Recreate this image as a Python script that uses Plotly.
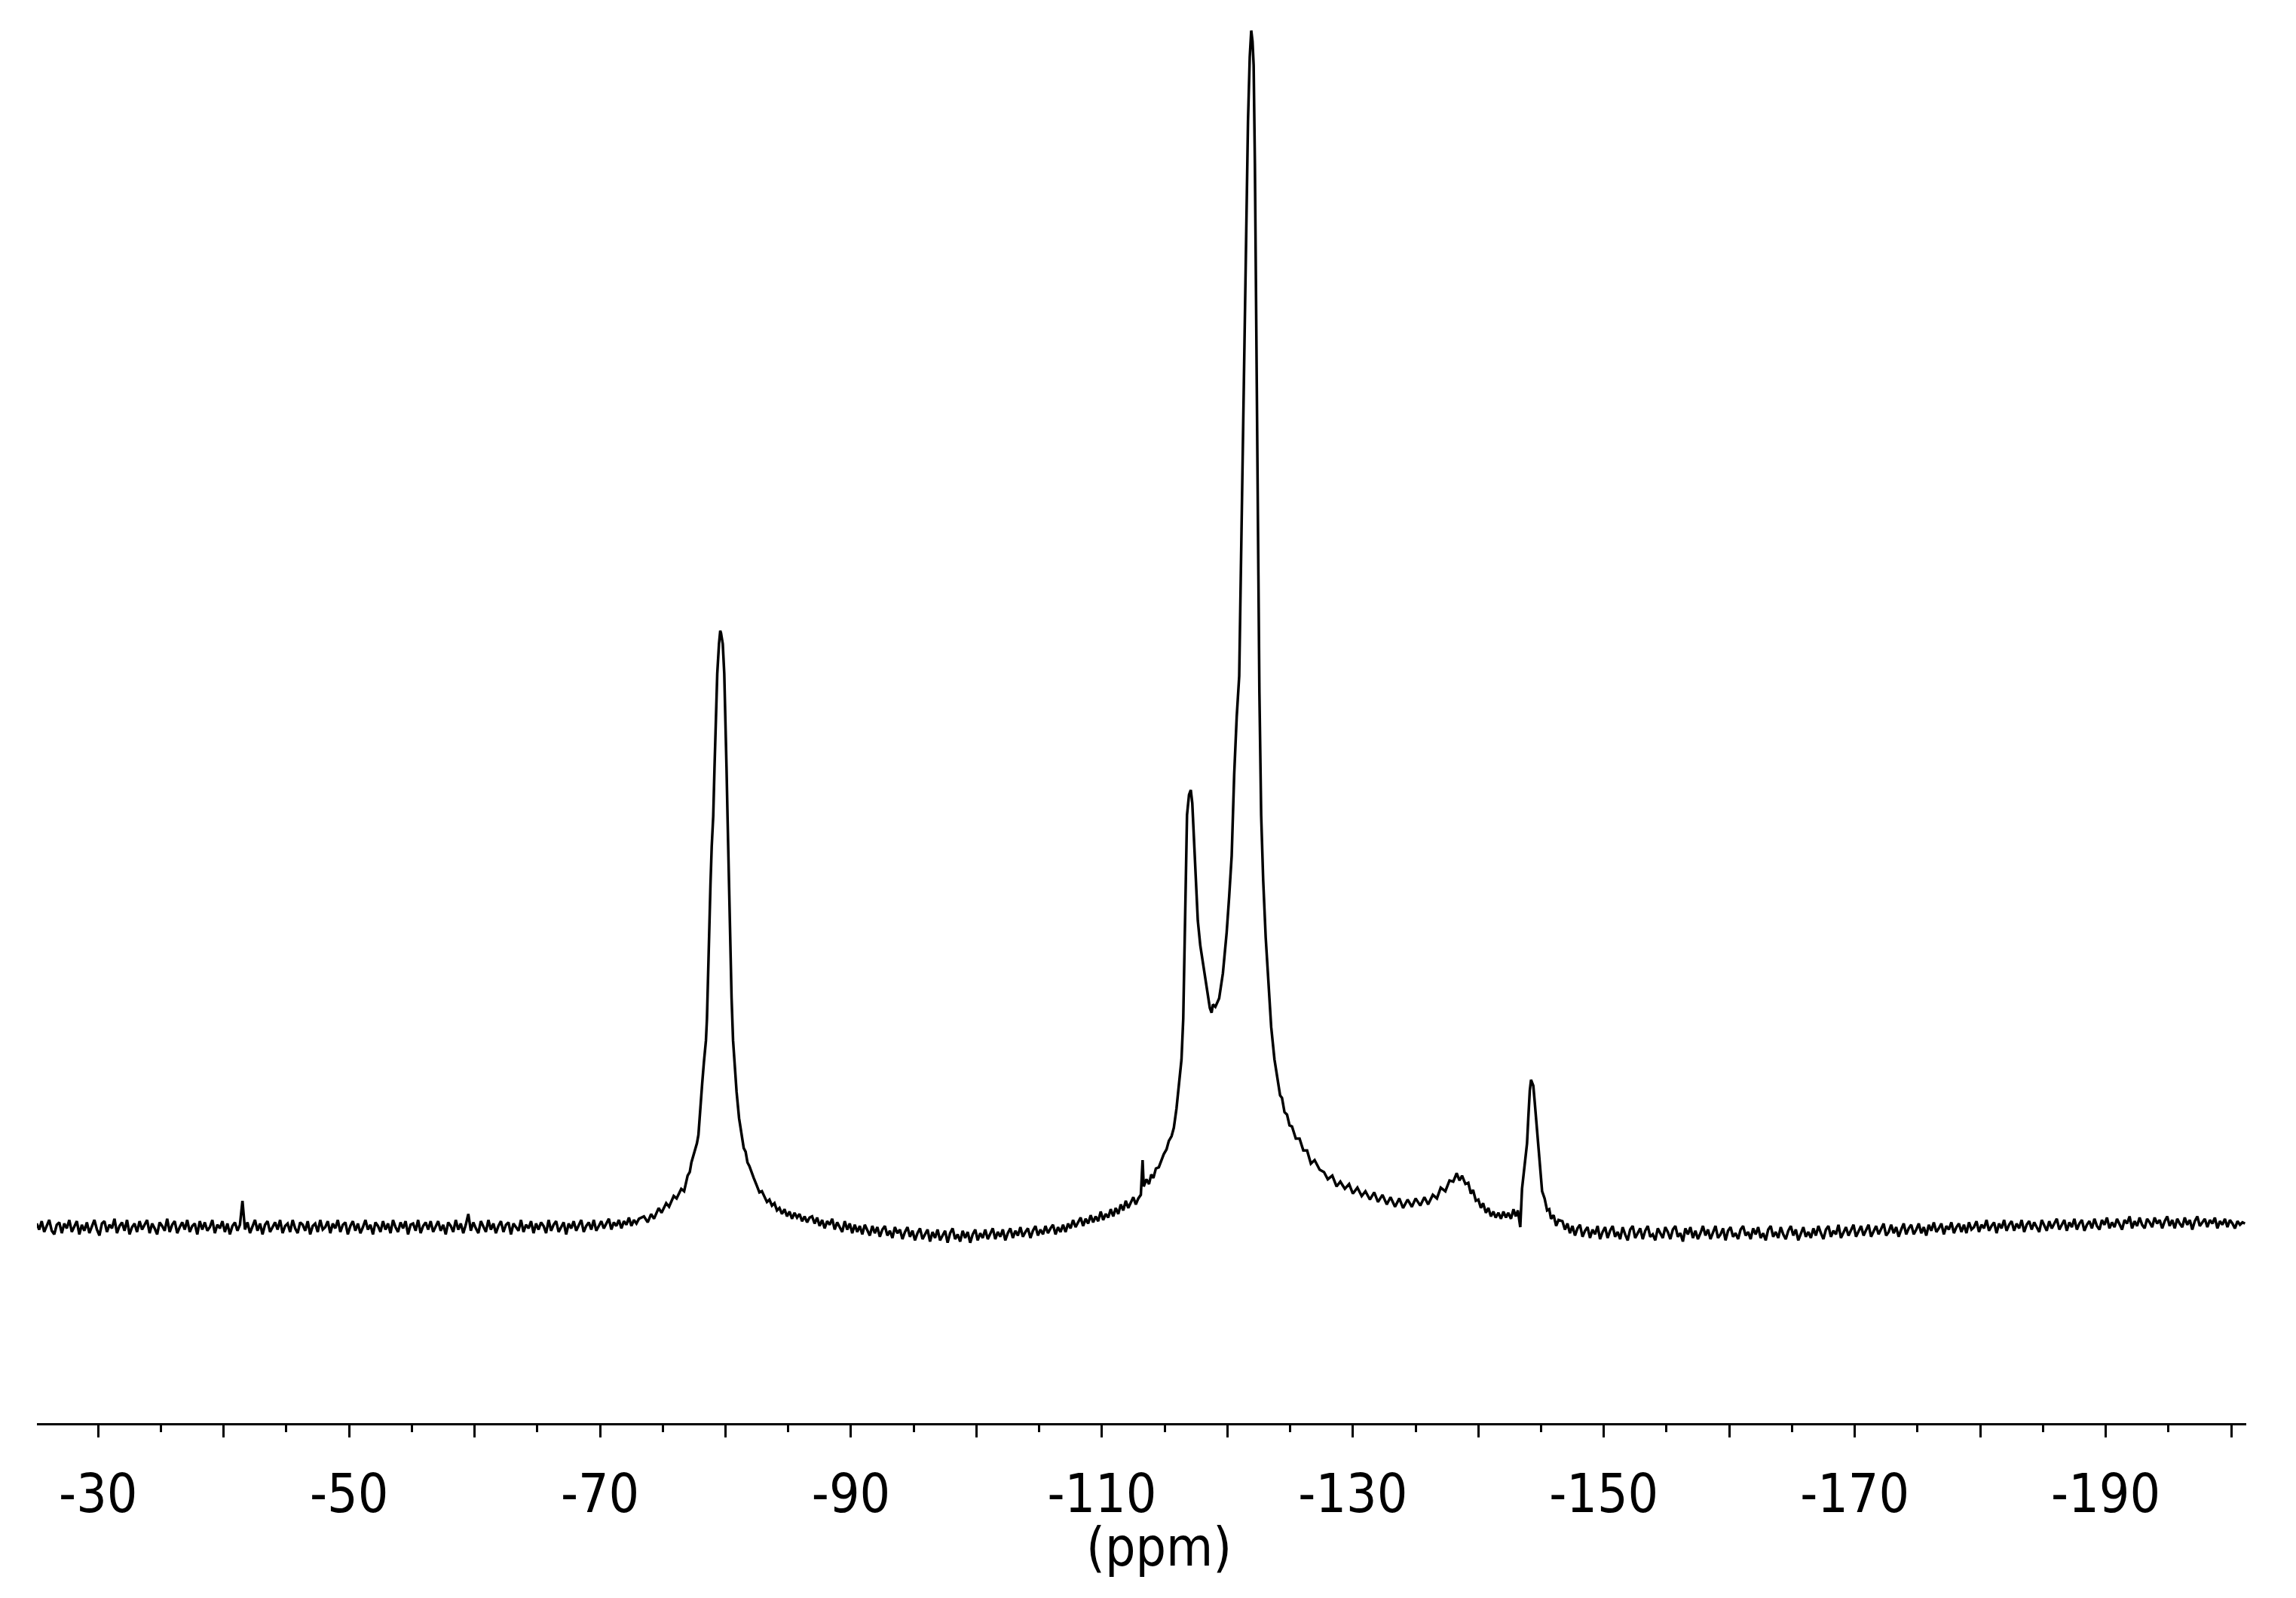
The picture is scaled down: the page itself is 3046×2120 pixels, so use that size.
import plotly.graph_objects as go

# ---- data (ppm, intensity in % of tallest peak) ----
STEP = 0.2  # ppm spacing of the baseline readings

# baseline readings, -25.1 ... -73.1 ppm
base_a_start = -25.1
base_a = [
    0.3, -0.2, 0.5, -0.4, 0.1, 0.6, -0.3, -0.6, 0.2, 0.4, -0.5, 0.3, -0.1, 0.6, -0.4, 0.0, 0.5, -0.6, 0.2, -0.3,
    0.4, -0.5, 0.1, 0.6, -0.2, -0.7, 0.3, 0.5, -0.4, 0.2, -0.1, 0.7, -0.5, 0.1, 0.4, -0.3, 0.6, -0.6, 0.0, 0.3,
    -0.4, 0.5, -0.2, 0.2, 0.6, -0.5, 0.3, -0.1, -0.6, 0.4, 0.1, -0.3, 0.7, -0.4, 0.2, 0.5, -0.5, 0.0, 0.4, -0.2,
    0.6, -0.4, 0.1, 0.3, -0.6, 0.5, -0.2, 0.4, -0.3, 0.0, 0.6, -0.5, 0.2, -0.1, 0.5, -0.4, 0.3, -0.6, 0.1, 0.4,
    -0.3, 0.2, 2.2, -0.2, 0.4, -0.5, 0.1, 0.6, -0.3, 0.3, -0.6, 0.2, 0.5, -0.4, 0.0, 0.4, -0.2, 0.6, -0.5, 0.1,
    0.3, -0.4, 0.6, -0.1, -0.5, 0.4, 0.2, -0.3, 0.5, -0.6, 0.1, 0.3, -0.4, 0.6, -0.2, 0.0, 0.5, -0.5, 0.3, -0.1,
    0.6, -0.4, 0.2, 0.4, -0.6, 0.1, 0.5, -0.3, 0.3, -0.5, 0.0, 0.6, -0.2, 0.2, -0.6, 0.4, 0.1, -0.4, 0.5, -0.2,
    0.3, -0.5, 0.6, 0.0, -0.4, 0.4, -0.1, 0.5, -0.6, 0.2, 0.3, -0.3, 0.6, -0.5, 0.1, 0.4, -0.2, 0.5, -0.4, 0.0,
    0.5, -0.3, 0.2, -0.6, 0.4, 0.1, -0.4, 0.6, -0.2, 0.3, -0.5, 0.2, 1.1, -0.3, 0.4, -0.1, -0.5, 0.5, 0.0, -0.4,
    0.6, -0.2, 0.3, -0.5, 0.1, 0.5, -0.4, 0.2, 0.4, -0.6, 0.3, 0.0, -0.3, 0.6, -0.4, 0.2, -0.1, 0.5, -0.5, 0.3,
    -0.2, 0.4, 0.1, -0.5, 0.6, -0.3, 0.2, 0.5, -0.4, 0.0, 0.4, -0.6, 0.3, -0.1, 0.5, -0.3, 0.2, 0.6, -0.4, 0.1,
    0.4, -0.2, 0.6, -0.3, 0.1, 0.5, -0.1, 0.3, 0.7, -0.2, 0.4, 0.1, 0.6, -0.1, 0.5, 0.2, 0.8, 0.1, 0.6, 0.3,
    0.7,
]

# peak near -79.6 ppm
peak1_ppm = [
    -73.5, -73.8, -74.07, -74.3, -74.67, -74.9, -75.27, -75.5, -75.87, -76.1,
    -76.47, -76.7, -76.98, -77.15, -77.28, -77.45, -77.58, -77.72, -77.84, -77.98,
    -78.14, -78.28, -78.44, -78.52, -78.60, -78.68, -78.80, -78.90, -79.02, -79.12,
    -79.22, -79.34, -79.48, -79.58, -79.64, -79.72, -79.78, -79.90, -80.00, -80.08,
    -80.16, -80.24, -80.32, -80.40, -80.48, -80.60, -80.72, -80.88, -81.08, -81.2,
    -81.32, -81.45, -81.6, -81.75, -81.9, -82.08, -82.25, -82.48, -82.7, -82.9,
    -83.08, -83.3, -83.5, -83.7, -83.9, -84.1, -84.3, -84.5, -84.7, -84.9,
    -85.1, -85.3, -85.5, -85.7, -85.9, -86.1, -86.3, -86.5, -86.7,
]
peak1_int = [
    0.9, 0.4, 1.1, 0.7, 1.6, 1.2, 2.0, 1.7, 2.6, 2.4,
    3.2, 3.0, 4.3, 4.6, 5.4, 6.0, 6.6, 7.0, 7.7, 10.0,
    12.0, 13.8, 15.6, 17.4, 21.0, 24.6, 28.6, 31.8, 34.3, 38.3,
    42.6, 46.2, 48.7, 49.8, 49.6, 49.2, 48.7, 46.2, 42.6, 38.3,
    34.3, 30.0, 26.4, 22.8, 19.2, 15.6, 13.8, 11.3, 9.1, 8.2,
    7.5, 6.6, 6.3, 5.4, 5.1, 4.5, 4.1, 3.5, 2.9, 3.0,
    2.6, 2.1, 2.3, 1.8, 2.0, 1.4, 1.6, 1.1, 1.5, 0.9,
    1.3, 0.7, 1.2, 0.8, 1.1, 0.5, 0.9, 0.4, 0.8,
]

# baseline readings, -86.9 ... -112.9 ppm
base_b_start = -86.9
base_b = [
    0.9, 0.3, 0.8, 0.1, 0.6, -0.1, 0.5, 0.2, 0.7, -0.2, 0.4, 0.0, -0.4, 0.5, -0.2, 0.3, -0.5, 0.2, -0.4, 0.1,
    -0.6, 0.2, -0.3, -0.7, 0.1, -0.5, 0.0, -0.8, -0.2, 0.1, -0.7, -0.3, -0.9, 0.0, -0.5, -0.2, -1.0, -0.4, 0.0, -0.8,
    -0.3, -1.1, -0.5, -0.1, -1.0, -0.6, -0.2, -1.2, -0.4, -0.9, -0.2, -1.1, -0.7, -0.3, -1.3, -0.5, -0.1, -1.0, -0.6, -1.2,
    -0.3, -0.9, -0.4, -1.3, -0.6, -0.2, -1.1, -0.5, -0.9, -0.2, -1.0, -0.6, -0.1, -1.0, -0.4, -0.8, -0.2, -1.1, -0.5, -0.1,
    -0.9, -0.3, -0.7, 0.0, -0.8, -0.4, -0.1, -0.9, -0.3, 0.1, -0.7, -0.2, -0.6, 0.1, -0.5, -0.1, 0.2, -0.6, 0.0, -0.4,
    0.2, -0.4, 0.3, -0.1, 0.6, 0.0, 0.4, 0.8, 0.1, 0.7, 0.3, 1.0, 0.4, 0.9, 0.5, 1.3, 0.6, 1.1, 0.8, 1.5,
    0.9, 1.6, 1.1, 1.9, 1.4, 2.2, 1.6, 2.0, 2.5, 1.9, 2.4,
]

# peaks near -117.1 and -121.9 ppm, hump near -138.3, peak near -144.2
peak2_ppm = [
    -113.1, -113.24, -113.33, -113.55, -113.75, -113.93, -114.1, -114.3, -114.53, -114.75,
    -114.93, -115.15, -115.33, -115.55, -115.73, -115.94, -116.14, -116.34, -116.48, -116.58,
    -116.68, -116.78, -116.94, -117.08, -117.20, -117.34, -117.48, -117.64, -117.84, -118.04,
    -118.24, -118.44, -118.6, -118.74, -118.85, -119.04, -119.34, -119.64, -119.94, -120.14,
    -120.34, -120.54, -120.74, -120.94, -121.08, -121.24, -121.44, -121.64, -121.78, -121.9,
    -122.0, -122.09, -122.19, -122.29, -122.41, -122.55, -122.69, -122.85, -123.05, -123.25,
    -123.49, -123.75, -124.05, -124.2, -124.35, -124.55, -124.75, -124.95, -125.15, -125.45,
    -125.75, -126.05, -126.35, -126.65, -126.95, -127.35, -127.7, -128.0, -128.36, -128.7,
    -129.0, -129.36, -129.7, -130.0, -130.36, -130.7, -131.0, -131.36, -131.7, -132.0,
    -132.36, -132.7, -133.0, -133.36, -133.7, -134.0, -134.36, -134.7, -135.0, -135.37,
    -135.7, -136.0, -136.37, -136.7, -137.0, -137.37, -137.7, -138.0, -138.27, -138.5,
    -138.7, -138.97, -139.2, -139.4, -139.58, -139.8, -140.0, -140.2, -140.38, -140.6,
    -140.8, -141.0, -141.2, -141.38, -141.6, -141.8, -142.0, -142.2, -142.38, -142.6,
    -142.8, -142.98, -143.15, -143.34, -143.48, -143.68, -143.88, -143.98, -144.10, -144.2,
    -144.28, -144.38, -144.48, -144.62, -144.78, -144.92, -145.08, -145.28, -145.48, -145.65,
    -145.79, -146.0, -146.2, -146.39,
]
peak2_int = [
    2.7, 5.6, 3.4, 4.0, 3.6, 4.4, 4.1, 4.9, 5.0, 5.6,
    6.1, 6.5, 7.2, 7.6, 8.3, 9.9, 12.0, 14.0, 17.4, 24.2,
    31.0, 34.4, 36.1, 36.5, 35.4, 32.4, 29.0, 25.6, 23.5, 22.2,
    20.8, 19.5, 18.3, 17.9, 18.6, 18.4, 19.1, 21.2, 24.6, 27.6,
    31.0, 37.8, 42.6, 46.0, 54.8, 65.0, 78.6, 92.3, 97.7, 99.9,
    99.0, 97.0, 88.8, 75.2, 58.2, 44.6, 34.4, 29.0, 24.2, 20.8,
    16.7, 14.0, 12.0, 11.0, 10.8, 9.6, 9.4, 8.5, 8.4, 7.4,
    7.4, 6.4, 6.4, 5.3, 5.6, 4.8, 4.6, 4.0, 4.3, 3.4,
    3.8, 3.2, 3.6, 2.8, 3.3, 2.6, 3.0, 2.3, 2.9, 2.1,
    2.7, 1.9, 2.5, 1.7, 2.4, 1.6, 2.3, 1.7, 2.4, 1.8,
    2.5, 1.9, 2.7, 2.4, 3.3, 3.0, 3.9, 3.8, 4.5, 3.9,
    4.3, 3.6, 3.7, 2.8, 3.1, 2.2, 2.3, 1.6, 2.0, 1.2,
    1.6, 0.9, 1.3, 0.8, 1.2, 0.7, 1.3, 0.8, 1.2, 0.7,
    1.5, 0.9, 1.4, 0.0, 3.2, 5.1, 7.0, 9.1, 11.4, 12.3,
    12.1, 11.8, 10.6, 8.7, 6.6, 4.9, 3.0, 2.4, 1.4, 1.5,
    0.7, 1.0, 0.1, 0.6,
]

# baseline readings, -146.7 ... -201.1 ppm
base_c_start = -146.7
base_c = [
    0.5, -0.2, 0.3, -0.5, 0.1, -0.7, -0.1, 0.2, -0.8, -0.3, 0.0, -0.9, -0.2, -0.6, 0.1, -1.0, -0.4, 0.0, -0.9, -0.3,
    0.1, -0.8, -0.4, -1.0, 0.0, -0.6, -1.1, -0.2, 0.1, -0.9, -0.5, -0.1, -1.0, -0.3, 0.1, -0.8, -0.6, -1.1, -0.1, -0.5,
    -0.9, 0.0, -0.4, -1.0, -0.2, 0.1, -0.8, -0.5, -1.2, -0.1, -0.6, 0.0, -0.9, -0.3, -1.0, -0.5, 0.1, -0.7, -0.2, -1.0,
    -0.4, 0.1, -0.9, -0.6, -0.1, -1.1, -0.3, 0.0, -0.8, -0.5, -1.0, -0.2, 0.1, -0.7, -0.4, -1.0, -0.1, -0.6, 0.0, -0.9,
    -0.5, -1.1, -0.2, 0.1, -0.8, -0.4, -0.9, 0.0, -0.6, -1.0, -0.3, 0.1, -0.7, -0.2, -1.1, -0.5, 0.0, -0.8, -0.4, -0.9,
    -0.1, -0.7, 0.1, -0.5, -1.0, -0.2, 0.1, -0.8, -0.3, -0.6, 0.2, -0.9, -0.4, 0.0, -0.7, -0.2, 0.2, -0.8, -0.4, 0.1,
    -0.7, -0.2, 0.2, -0.8, -0.3, 0.1, -0.6, -0.1, 0.3, -0.7, -0.4, 0.2, -0.5, 0.0, -0.8, -0.2, 0.3, -0.6, -0.1, 0.2,
    -0.6, -0.2, 0.3, -0.5, 0.0, -0.7, 0.2, -0.3, 0.4, -0.4, -0.1, 0.3, -0.6, 0.1, -0.2, 0.4, -0.5, 0.0, 0.3, -0.4,
    0.2, -0.5, 0.4, -0.2, 0.0, 0.5, -0.4, 0.2, -0.1, 0.6, -0.3, 0.1, 0.4, -0.5, 0.3, -0.1, 0.6, -0.3, 0.2, 0.5,
    -0.3, 0.3, -0.1, 0.6, -0.4, 0.2, 0.5, -0.2, 0.4, 0.0, -0.4, 0.6, 0.1, -0.3, 0.5, -0.1, 0.3, 0.7, -0.2, 0.2,
    0.6, -0.3, 0.4, 0.0, 0.7, -0.2, 0.3, 0.6, -0.3, 0.2, 0.5, -0.1, 0.7, 0.1, -0.2, 0.6, 0.2, 0.8, -0.1, 0.4,
    0.0, 0.7, 0.2, -0.2, 0.6, 0.3, 0.9, -0.1, 0.5, 0.1, 0.8, 0.2, -0.1, 0.7, 0.4, 0.0, 0.8, 0.3, 0.6, -0.1,
    0.5, 0.9, 0.1, 0.6, -0.1, 0.7, 0.3, 0.0, 0.8, 0.2, 0.6, -0.2, 0.5, 0.9, 0.1, 0.4, 0.7, 0.0, 0.6, 0.3,
    0.8, -0.1, 0.5, 0.2, 0.7, 0.0, 0.6, 0.3, -0.1, 0.5, 0.2, 0.4, 0.3,
]

major_ticks = [-30, -40, -50, -60, -70, -80, -90, -100, -110, -120,
               -130, -140, -150, -160, -170, -180, -190, -200]
major_labels = ["-30", "", "-50", "", "-70", "", "-90", "", "-110", "",
                "-130", "", "-150", "", "-170", "", "-190", ""]
minor_ticks = [-35, -45, -55, -65, -75, -85, -95, -105, -115, -125,
               -135, -145, -155, -165, -175, -185, -195]
x_title = "(ppm)"


def on_grid(start, values):
    return [round(start - STEP * i, 2) for i in range(len(values))]


ppm = (on_grid(base_a_start, base_a) + peak1_ppm + on_grid(base_b_start, base_b)
       + peak2_ppm + on_grid(base_c_start, base_c))
inten = base_a + peak1_int + base_b + peak2_int + base_c

FONT = "DejaVu Sans Condensed, Liberation Sans Narrow, DejaVu Sans, sans-serif"

fig = go.Figure(go.Scatter(x=ppm, y=inten, mode="lines",
                           line=dict(color="black", width=3.5),
                           hoverinfo="skip"))

fig.update_layout(
    width=3046, height=2120,
    margin=dict(l=49, r=66, t=0, b=232, pad=0),
    paper_bgcolor="white", plot_bgcolor="white",
    showlegend=False,
    xaxis=dict(
        range=[-25.12, -201.2],
        showline=True, linecolor="black", linewidth=3,
        ticks="outside", ticklen=16, tickwidth=3, tickcolor="black",
        tickmode="array", tickvals=major_ticks, ticktext=major_labels,
        tickfont=dict(family=FONT, size=71, color="black"),
        ticklabelstandoff=14,
        minor=dict(tickmode="array", tickvals=minor_ticks, ticks="outside",
                   ticklen=9, tickwidth=3, tickcolor="black", showgrid=False),
        showgrid=False, zeroline=False,
    ),
    yaxis=dict(range=[-16.36, 102.45], visible=False, fixedrange=True),
    annotations=[dict(text=x_title, xref="paper", yref="paper",
                      x=0.5077, y=-0.064, xanchor="center", yanchor="top",
                      showarrow=False,
                      font=dict(family=FONT, size=71, color="black"))],
)

fig.write_html("out.html", config={"displayModeBar": False},
               post_script="document.body.style.margin='0';document.body.style.padding='0';")
